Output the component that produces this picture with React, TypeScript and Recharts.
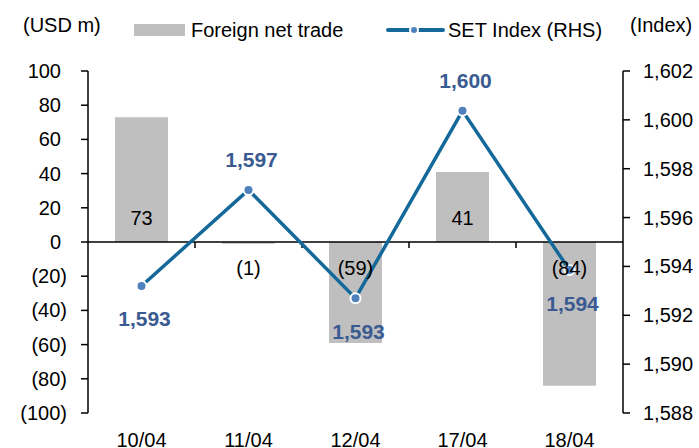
import React from 'react';
import {
  ComposedChart,
  Bar,
  Line,
  XAxis,
  YAxis,
  ReferenceLine,
  LabelList,
} from 'recharts';

const dates = ['10/04', '11/04', '12/04', '17/04', '18/04'];
const foreignNetTrade = [73, -1, -59, 41, -84];
const setIndex = [1593.2, 1597.13, 1592.7, 1600.37, 1593.85];
const leftTicks = [100, 80, 60, 40, 20, 0, -20, -40, -60, -80, -100];
const rightTicks = [1588, 1590, 1592, 1594, 1596, 1598, 1600, 1602];

const data = dates.map((date, i) => ({
  date,
  trade: foreignNetTrade[i],
  set: setIndex[i],
}));

const FONT = '"Liberation Sans", Arial, sans-serif';
const BAR_COLOR = '#BFBFBF';
const LINE_COLOR = '#15699A';
const DOT_COLOR = '#4F81BD';
const LABEL_BLUE = '#3A5A92';

const fmtLeft = (v: number) => (v < 0 ? `(${Math.abs(v)})` : `${v}`);
const fmtRight = (v: number) => v.toLocaleString('en-US');

const LeftTick = (props: any) => {
  const { x, y, payload } = props;
  const v = payload.value;
  // positive numbers leave room for the closing bracket, like Excel does
  return (
    <text x={v < 0 ? x : x - 6} y={y} textAnchor="end" dominantBaseline="central" fontSize={20} fill="#000">
      {fmtLeft(v)}
    </text>
  );
};

const RightTick = (props: any) => {
  const { x, y, payload } = props;
  return (
    <text x={x} y={y} textAnchor="start" dominantBaseline="central" fontSize={20} fill="#000">
      {fmtRight(payload.value)}
    </text>
  );
};

const renderBarLabel = (p: any) => {
  const vb = p.viewBox || p;
  const { x, y, width, height } = vb;
  const v = Number(p.value);
  const top = Math.min(y, y + height);
  const bottom = Math.max(y, y + height);
  const base = v >= 0 ? bottom : top;
  const cy = v >= 0 ? base - 24 : base + 26;
  return (
    <text x={x + width / 2} y={cy} textAnchor="middle" dominantBaseline="central" fontSize={20} fill="#000">
      {fmtLeft(v)}
    </text>
  );
};

const renderLineLabel = (p: any) => {
  const vb = p.viewBox || p;
  const x = vb.x ?? p.x;
  const y = vb.y ?? p.y;
  const v = Number(p.value);
  let i = typeof p.index === 'number' ? p.index : setIndex.indexOf(v);
  const prev = i > 0 ? setIndex[i - 1] : -Infinity;
  const next = i < setIndex.length - 1 ? setIndex[i + 1] : -Infinity;
  const above = v > prev && v > next;
  return (
    <text
      x={x + 3}
      y={above ? y - 30 : y + 33}
      textAnchor="middle"
      dominantBaseline="central"
      fontSize={21}
      fontWeight="bold"
      fill={LABEL_BLUE}
    >
      {Math.round(v).toLocaleString('en-US')}
    </text>
  );
};

// zero line with the category tick marks hanging under it
const ZeroLine = (props: any) => {
  const { x1, y1, x2 } = props;
  const n = dates.length;
  const step = (x2 - x1) / n;
  return (
    <g>
      <line x1={x1} y1={y1} x2={x2} y2={y1} stroke="#000" strokeWidth={1.5} />
      {dates.slice(1).map((_, i) => (
        <line key={i} x1={x1 + step * (i + 1)} y1={y1} x2={x1 + step * (i + 1)} y2={y1 + 6} stroke="#000" strokeWidth={1.5} />
      ))}
    </g>
  );
};

const textStyle: React.CSSProperties = {
  position: 'absolute',
  fontSize: 20,
  lineHeight: '20px',
  color: '#000',
  whiteSpace: 'nowrap',
};

export default function App() {
  return (
    <div style={{ position: 'absolute', left: 0, top: 0, width: 699, height: 448, background: '#fff', fontFamily: FONT }}>
      <div style={{ ...textStyle, left: 23, top: 15 }}>(USD m)</div>
      <div style={{ position: 'absolute', left: 134, top: 24, width: 51, height: 12, background: BAR_COLOR }} />
      <div style={{ ...textStyle, left: 191, top: 20 }}>Foreign net trade</div>
      <svg style={{ position: 'absolute', left: 386, top: 24 }} width={60} height={12}>
        <line x1={2} y1={6} x2={57} y2={6} stroke={LINE_COLOR} strokeWidth={4} strokeLinecap="round" />
        <circle cx={28} cy={6} r={4} fill={DOT_COLOR} stroke="#fff" strokeWidth={2} />
      </svg>
      <div style={{ ...textStyle, left: 448, top: 20 }}>SET Index (RHS)</div>
      <div style={{ ...textStyle, left: 630, top: 15 }}>(Index)</div>

      <ComposedChart
        width={699}
        height={448}
        data={data}
        margin={{ top: 71, right: 0, bottom: 0, left: 0 }}
        style={{ fontFamily: FONT }}
      >
        <XAxis
          dataKey="date"
          axisLine={false}
          tickLine={false}
          tickSize={0}
          tickMargin={20}
          height={35}
          interval={0}
          tick={{ fill: '#000', fontSize: 20 }}
        />
        <YAxis
          yAxisId="left"
          domain={[-100, 100]}
          ticks={leftTicks}
          interval={0}
          width={88}
          tickSize={7}
          tickMargin={14}
          axisLine={{ stroke: '#000', strokeWidth: 1.5 }}
          tickLine={{ stroke: '#000', strokeWidth: 1.5 }}
          tick={<LeftTick />}
        />
        <YAxis
          yAxisId="right"
          orientation="right"
          domain={[1588, 1602]}
          ticks={rightTicks}
          interval={0}
          width={76}
          tickSize={7}
          tickMargin={13}
          axisLine={{ stroke: '#000', strokeWidth: 1.5 }}
          tickLine={{ stroke: '#000', strokeWidth: 1.5 }}
          tick={<RightTick />}
        />
        <Bar yAxisId="left" dataKey="trade" fill={BAR_COLOR} barSize={53} isAnimationActive={false}>
          <LabelList dataKey="trade" content={renderBarLabel} />
        </Bar>
        <ReferenceLine yAxisId="left" y={0} shape={ZeroLine} />
        <Line
          yAxisId="right"
          dataKey="set"
          stroke={LINE_COLOR}
          strokeWidth={3.5}
          dot={{ r: 5, fill: DOT_COLOR, stroke: '#fff', strokeWidth: 2 }}
          activeDot={false}
          isAnimationActive={false}
        >
          <LabelList dataKey="set" content={renderLineLabel} />
        </Line>
      </ComposedChart>
    </div>
  );
}
